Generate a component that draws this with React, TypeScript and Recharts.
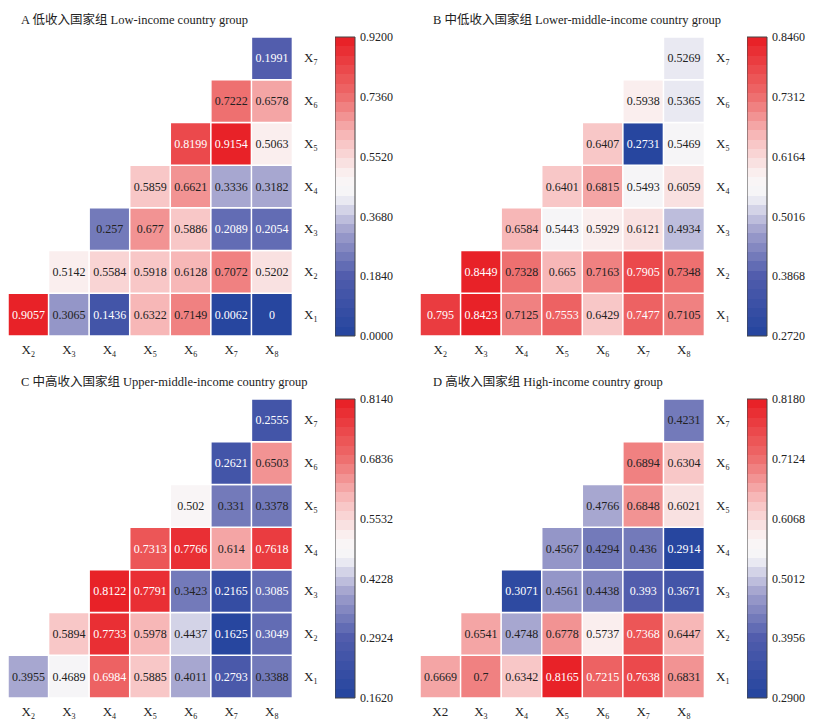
import React from 'react';
import { BarChart, Bar, XAxis, YAxis, Cell, LabelList } from 'recharts';

// Each row: correlation of X_r with X_(r+1)..X_8
const lowIncome = [
  [0.9057, 0.3065, 0.1436, 0.6322, 0.7149, 0.0062, 0],
  [0.5142, 0.5584, 0.5918, 0.6128, 0.7072, 0.5202],
  [0.257, 0.677, 0.5886, 0.2089, 0.2054],
  [0.5859, 0.6621, 0.3336, 0.3182],
  [0.8199, 0.9154, 0.5063],
  [0.7222, 0.6578],
  [0.1991],
];
const lowerMiddle = [
  [0.795, 0.8423, 0.7125, 0.7553, 0.6429, 0.7477, 0.7105],
  [0.8449, 0.7328, 0.665, 0.7163, 0.7905, 0.7348],
  [0.6584, 0.5443, 0.5929, 0.6121, 0.4934],
  [0.6401, 0.6815, 0.5493, 0.6059],
  [0.6407, 0.2731, 0.5469],
  [0.5938, 0.5365],
  [0.5269],
];
const upperMiddle = [
  [0.3955, 0.4689, 0.6984, 0.5885, 0.4011, 0.2793, 0.3388],
  [0.5894, 0.7733, 0.5978, 0.4437, 0.1625, 0.3049],
  [0.8122, 0.7791, 0.3423, 0.2165, 0.3085],
  [0.7313, 0.7766, 0.614, 0.7618],
  [0.502, 0.331, 0.3378],
  [0.2621, 0.6503],
  [0.2555],
];
const highIncome = [
  [0.6669, 0.7, 0.6342, 0.8165, 0.7215, 0.7638, 0.6831],
  [0.6541, 0.4748, 0.6778, 0.5737, 0.7368, 0.6447],
  [0.3071, 0.4561, 0.4438, 0.393, 0.3671],
  [0.4567, 0.4294, 0.436, 0.2914],
  [0.4766, 0.6848, 0.6021],
  [0.6894, 0.6304],
  [0.4231],
];

const colTicks = ['X_2', 'X_3', 'X_4', 'X_5', 'X_6', 'X_7', 'X_8'];
const colTicksD = ['X2', 'X_3', 'X_4', 'X_5', 'X_6', 'X_7', 'X_8'];
const rowTicks = ['X_1', 'X_2', 'X_3', 'X_4', 'X_5', 'X_6', 'X_7'];

const barTicksA = [0, 0.184, 0.368, 0.552, 0.736, 0.92];
const barTicksB = [0.272, 0.3868, 0.5016, 0.6164, 0.7312, 0.846];
const barTicksC = [0.162, 0.2924, 0.4228, 0.5532, 0.6836, 0.814];
const barTicksD = [0.29, 0.3956, 0.5012, 0.6068, 0.7124, 0.818];

const titles = [
  'A 低收入国家组 Low-income country group',
  'B 中低收入国家组 Lower-middle-income country group',
  'C 中高收入国家组 Upper-middle-income country group',
  'D 高收入国家组 High-income country group',
];

const FONT = '"Liberation Serif", "Times New Roman", "Noto Sans CJK SC", serif';
const BANDS = 32;

const STOPS: [number, number[]][] = [
  [0, [36, 68, 158]],
  [0.2, [80, 92, 172]],
  [0.35, [160, 160, 205]],
  [0.47, [245, 245, 248]],
  [0.53, [250, 245, 245]],
  [0.65, [248, 195, 195]],
  [0.8, [238, 110, 110]],
  [1, [232, 28, 34]],
];

function cmap(t: number) {
  for (let i = 1; i < STOPS.length; i++) {
    const [t1, c1] = STOPS[i];
    const [t0, c0] = STOPS[i - 1];
    if (t <= t1) {
      const f = (t - t0) / (t1 - t0);
      const c = c0.map((v, k) => Math.round(v + (c1[k] - v) * f));
      return `rgb(${c[0]},${c[1]},${c[2]})`;
    }
  }
  return 'rgb(232,28,34)';
}

function bandColor(v: number, min: number, max: number) {
  const t = (v - min) / (max - min);
  const idx = Math.max(0, Math.min(BANDS - 1, Math.floor(t * BANDS)));
  return cmap((idx + 0.5) / BANDS);
}

const SubLabel = ({ x, y, text, anchor }: any) => {
  const [base, sub] = text.split('_');
  return (
    <text x={x} y={y} textAnchor={anchor} fontFamily={FONT} fill="#222">
      <tspan fontSize={13}>{base}</tspan>
      {sub && <tspan fontSize={8} dy={3}>{sub}</tspan>}
    </text>
  );
};

const Panel = ({ left, top, title, rows, ticks, xTicks, id }: any) => {
  const min = ticks[0];
  const max = ticks[ticks.length - 1];
  const data = xTicks.map((col: string, c: number) => {
    const d: any = { col };
    rows.forEach((vals: number[], r: number) => {
      const present = r <= c;
      d[`r${r}`] = present ? 1 : 0;
      d[`v${r}`] = present ? vals[c - r] : null;
    });
    return d;
  });

  const cellLabel = (props: any) => {
    const { x, y, width, height, value } = props;
    if (value == null) return null;
    const t = (value - min) / (max - min);
    const light = t > 0.81 || t < 0.25;
    return (
      <text
        x={x + width / 2}
        y={y + height / 2 + 4}
        textAnchor="middle"
        fontSize={12}
        fontFamily={FONT}
        fill={light ? '#fff' : '#222'}
      >
        {String(value)}
      </text>
    );
  };

  const gradStops: any[] = [];
  for (let i = 0; i < BANDS; i++) {
    const col = cmap((i + 0.5) / BANDS);
    gradStops.push(<stop key={`a${i}`} offset={i / BANDS} stopColor={col} />);
    gradStops.push(<stop key={`b${i}`} offset={(i + 1) / BANDS} stopColor={col} />);
  }

  return (
    <div style={{ position: 'absolute', left, top, width: 410, height: 362 }}>
      <div
        style={{
          position: 'absolute',
          left: 21,
          top: 12,
          fontSize: 12.5,
          fontFamily: FONT,
          color: '#222',
          whiteSpace: 'nowrap',
          lineHeight: '16px',
        }}
      >
        {title}
      </div>
      <div style={{ position: 'absolute', left: 0, top: 0 }}>
        <BarChart
          width={327}
          height={366}
          data={data}
          margin={{ top: 37, left: 8, right: 0, bottom: 0 }}
          barCategoryGap={0}
          barGap={0}
        >
          <XAxis
            dataKey="col"
            type="category"
            axisLine={false}
            tickLine={false}
            height={30}
            interval={0}
            tick={(p: any) => (
              <SubLabel x={p.x} y={p.y + 10} text={p.payload.value} anchor="middle" />
            )}
          />
          <YAxis
            type="number"
            orientation="right"
            domain={[0, 7]}
            ticks={[0.5, 1.5, 2.5, 3.5, 4.5, 5.5, 6.5]}
            axisLine={false}
            tickLine={false}
            width={35}
            interval={0}
            tick={(p: any) => (
              <SubLabel
                x={p.x + 4}
                y={p.y + 4}
                text={rowTicks[Math.floor(p.payload.value)]}
                anchor="start"
              />
            )}
          />
          {rows.map((_: any, r: number) => (
            <Bar
              key={r}
              dataKey={`r${r}`}
              stackId="s"
              isAnimationActive={false}
              stroke="#fff"
              strokeWidth={1.5}
            >
              {data.map((d: any, i: number) => (
                <Cell
                  key={i}
                  fill={d[`v${r}`] != null ? bandColor(d[`v${r}`], min, max) : 'none'}
                />
              ))}
              <LabelList dataKey={`v${r}`} content={cellLabel} />
            </Bar>
          ))}
        </BarChart>
      </div>
      <div style={{ position: 'absolute', left: 335, top: 0 }}>
        <BarChart
          width={72}
          height={350}
          data={[{ name: 'bar', range: [min, max] }]}
          margin={{ top: 37, left: 0, right: 0, bottom: 14 }}
          barCategoryGap={0}
        >
          <defs>
            <linearGradient id={`cb${id}`} x1="0" y1="1" x2="0" y2="0">
              {gradStops}
            </linearGradient>
          </defs>
          <XAxis dataKey="name" hide />
          <YAxis
            type="number"
            orientation="right"
            domain={[min, max]}
            ticks={ticks}
            axisLine={false}
            tickLine={false}
            tickSize={0}
            tickMargin={5}
            width={52}
            interval={0}
            tickFormatter={(v: number) => v.toFixed(4)}
            tick={{ fontSize: 12, fontFamily: FONT, fill: '#222' }}
          />
          <Bar
            dataKey="range"
            fill={`url(#cb${id})`}
            stroke="#444"
            strokeWidth={1}
            isAnimationActive={false}
          />
        </BarChart>
      </div>
    </div>
  );
};

export default function App() {
  return (
    <div
      style={{
        position: 'absolute',
        left: 0,
        top: 0,
        width: 818,
        height: 724,
        background: '#fff',
      }}
    >
      <Panel left={0} top={0} id="A" title={titles[0]} rows={lowIncome} ticks={barTicksA} xTicks={colTicks} />
      <Panel left={412} top={0} id="B" title={titles[1]} rows={lowerMiddle} ticks={barTicksB} xTicks={colTicks} />
      <Panel left={0} top={362} id="C" title={titles[2]} rows={upperMiddle} ticks={barTicksC} xTicks={colTicks} />
      <Panel left={412} top={362} id="D" title={titles[3]} rows={highIncome} ticks={barTicksD} xTicks={colTicksD} />
    </div>
  );
}
